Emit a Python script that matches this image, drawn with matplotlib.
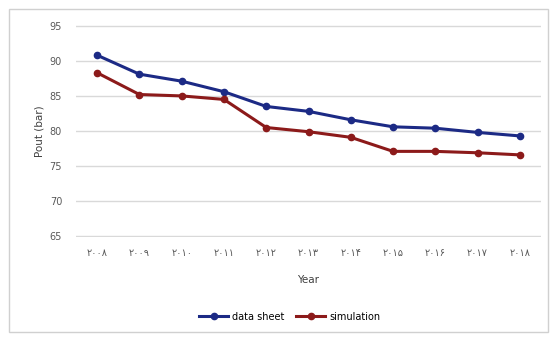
import matplotlib.pyplot as plt
from matplotlib.patches import Rectangle

# Years written with Persian digits, as on the axis
YEARS = ["۲۰۰۸", "۲۰۰۹", "۲۰۱۰", "۲۰۱۱", "۲۰۱۲", "۲۰۱۳",
         "۲۰۱۴", "۲۰۱۵", "۲۰۱۶", "۲۰۱۷", "۲۰۱۸"]

DATA_SHEET = [90.8, 88.1, 87.1, 85.6, 83.5, 82.8, 81.6, 80.6, 80.4, 79.8, 79.3]
SIMULATION = [88.3, 85.2, 85.0, 84.5, 80.5, 79.9, 79.1, 77.1, 77.1, 76.9, 76.6]

Y_TICKS = [65, 70, 75, 80, 85, 90, 95]

BLUE = "#1c2a85"
RED = "#8c1a1a"
GRID = "#d9d9d9"
TXT = "#595959"

plt.rcParams["font.family"] = ["DejaVu Sans", "Noto Sans"]

fig = plt.figure(figsize=(5.57, 3.40), dpi=100)
ax = fig.add_axes([0.1364, 0.3029, 0.835, 0.6235])

x = list(range(len(YEARS)))
ax.plot(x, DATA_SHEET, color=BLUE, lw=2.2, marker="o", ms=4.5, label="data sheet")
ax.plot(x, SIMULATION, color=RED, lw=2.2, marker="o", ms=4.5, label="simulation")

ax.set_xlim(-0.5, len(YEARS) - 0.5)
ax.set_ylim(64.9, 95.1)
ax.set_yticks(Y_TICKS)
ax.set_xticks(x)
ax.set_xticklabels(YEARS, fontsize=7, color=TXT)
ax.tick_params(axis="y", labelsize=7, colors=TXT, length=0, pad=10)
ax.tick_params(axis="x", length=0, pad=8)
ax.grid(axis="y", color=GRID, lw=1.0)
ax.set_axisbelow(True)
for s in ax.spines.values():
    s.set_visible(False)

ax.set_ylabel("Pout (bar)", fontsize=7.5, color="#404040", labelpad=4)
ax.set_xlabel("Year", fontsize=7.5, color="#404040", labelpad=12)

fig.legend(loc="center", bbox_to_anchor=(0.52, 0.068), ncol=2, frameon=False,
           fontsize=7, handlelength=3, columnspacing=1.2, handletextpad=0.4)

# light frame round the whole chart
fig.patches.append(Rectangle((0.016, 0.025), 0.968, 0.95, transform=fig.transFigure,
                             fill=False, edgecolor="#d0d0d0", lw=1.0))

fig.savefig("out.png", dpi=100)
